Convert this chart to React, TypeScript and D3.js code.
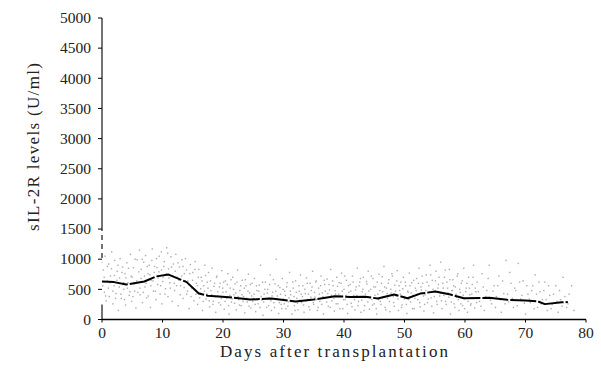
import React from "react";
import * as d3 from "d3";

const yTicks = [0, 500, 1000, 1500, 2000, 2500, 3000, 3500, 4000, 4500, 5000];
const xTicks = [0, 10, 20, 30, 40, 50, 60, 70, 80];

const meanDays = [0, 2, 4, 7, 9, 11, 14, 16, 17.5, 21, 24.5, 28, 32, 35, 38.5, 41, 43.5, 45.6, 48.3, 50.5, 52.6, 55.1, 57.6, 59.8, 64, 67, 70, 72, 73.2, 76, 77];
const meanValues = [630, 620, 580, 630, 715, 745, 620, 430, 395, 370, 330, 348, 298, 330, 385, 375, 377, 348, 414, 353, 430, 464, 414, 353, 360, 326, 315, 303, 255, 285, 290];

const scatterWide: [number, number][] = [
  [0.2,820],[0.4,450],[0.5,1050],[0.7,310],[0.9,640],[1.1,920],[1.2,380],[1.4,720],[1.6,1120],[1.8,260],[2.0,560],[2.1,980],[2.3,430],[2.5,800],[2.7,150],[2.9,690],[3.0,1010],[3.2,350],[3.4,870],[3.6,500],[3.8,760],[3.9,240],[4.1,940],[4.3,610],[4.5,400],[4.7,1080],[4.9,300],[5.0,700],[5.2,860],[5.4,470],[5.6,190],[5.8,990],
  [6.0,620],[6.2,1150],[6.3,410],[6.5,830],[6.7,280],[6.9,950],[7.1,540],[7.2,1060],[7.4,360],[7.6,760],[7.8,900],[8.0,200],[8.1,650],[8.3,1170],[8.5,470],[8.7,880],[8.9,330],[9.0,1010],[9.2,580],[9.4,790],[9.6,420],[9.8,1120],[9.9,260],[10.1,700],[10.3,960],[10.5,510],[10.7,1190],[10.9,380],[11.0,840],[11.2,610],[11.4,1040],[11.6,300],[11.8,920],[12.0,480],
  [12.2,1080],[12.4,700],[12.6,230],[12.8,870],[13.0,560],[13.2,990],[13.4,350],[13.6,760],[13.8,1010],[14.0,420],[14.2,640],[14.4,180],[14.6,910],[14.8,520],[15.0,780],[15.2,310],[15.4,960],[15.6,600],[15.8,250],[16.0,830],[16.2,440],[16.4,700],[16.6,150],[16.8,560],[17.0,900],[17.2,340],[17.4,620],
  [17.6,780],[17.8,210],[18.0,480],[18.2,850],[18.4,300],[18.6,600],[18.8,120],[19.0,720],[19.2,390],[19.4,540],[19.6,240],[19.8,810],[20.0,450],[20.2,170],[20.4,640],[20.6,350],[20.8,760],[21.0,90],[21.2,520],[21.4,290],[21.6,700],[21.8,410],[22.0,590],[22.2,160],[22.4,820],[22.6,330],[22.8,480],[23.0,230],[23.2,650],[23.4,380],[23.6,110],[23.8,560],[24.0,290],[24.2,750],[24.4,440],[24.6,190],[24.8,600],
  [25.0,350],[25.2,680],[25.4,130],[25.6,480],[25.8,260],[26.0,570],[26.2,900],[26.4,320],[26.6,70],[26.8,420],[27.0,620],[27.2,200],[27.4,500],[27.6,360],[27.8,740],[28.0,150],[28.2,450],[28.4,280],[28.6,590],[28.8,1000],[29.0,390],[29.2,100],[29.4,530],[29.6,250],[29.8,680],[30.0,340],[30.2,470],[30.4,180],[30.6,610],[30.8,290],[31.0,780],[31.2,410],[31.4,90],[31.6,520],[31.8,230],[32.0,640],[32.2,350],[32.4,160],[32.6,470],[32.8,740],
  [33.0,280],[33.2,560],[33.4,120],[33.6,430],[33.8,690],[34.0,330],[34.2,210],[34.4,600],[34.6,480],[34.8,800],[35.0,250],[35.2,370],[35.4,640],[35.6,150],[35.8,520],[36.0,300],[36.2,720],[36.4,440],[36.6,90],[36.8,580],[37.0,360],[37.2,670],[37.4,220],[37.6,490],[37.8,830],[38.0,310],[38.2,560],[38.4,140],[38.6,420],[38.8,700],[39.0,260],[39.2,610],[39.4,380],[39.6,770],[39.8,180],[40.0,500],[40.2,330],[40.4,650],[40.6,100],[40.8,450],[41.0,580],[41.2,270],[41.4,720],[41.6,400],[41.8,160],
  [42.0,540],[42.2,850],[42.4,300],[42.6,620],[42.8,120],[43.0,460],[43.2,700],[43.4,230],[43.6,380],[43.8,590],[44.0,800],[44.2,170],[44.4,500],[44.6,330],[44.8,680],[45.0,260],[45.2,540],[45.4,90],[45.6,420],[45.8,750],[46.0,300],[46.2,600],[46.4,460],[46.6,880],[46.8,200],[47.0,520],[47.2,350],[47.4,660],[47.6,130],[47.8,440],[48.0,720],[48.2,280],[48.4,570],[48.6,390],[48.8,810],[49.0,150],[49.2,480],[49.4,620],[49.6,240],[49.8,700],[50.0,340],[50.2,560],[50.4,100],[50.6,450],[50.8,770],[51.0,290],[51.2,610],[51.4,400],[51.6,180],[51.8,520],
  [52.0,680],[52.2,330],[52.4,850],[52.6,210],[52.8,490],[53.0,600],[53.2,140],[53.4,410],[53.6,740],[53.8,280],[54.0,560],[54.2,900],[54.4,360],[54.6,650],[54.8,110],[55.0,470],[55.2,800],[55.4,250],[55.6,580],[55.8,390],[56.0,950],[56.2,180],[56.4,520],[56.6,700],[56.8,300],[57.0,620],[57.2,440],[57.4,830],[57.6,90],[57.8,480],[58.0,660],[58.2,260],[58.4,540],[58.6,370],[58.8,760],[59.0,150],[59.2,450],[59.4,600],[59.6,230],[59.8,850],[60.0,340],[60.2,520],[60.4,120],[60.6,700],[60.8,410],[61.0,260],[61.2,580],[61.4,900],[61.6,190],[61.8,460],
  [62.0,620],[62.4,300],[62.8,760],[63.2,150],[63.6,480],[64.0,900],[64.4,260],[64.8,560],[65.2,380],[65.6,720],[66.0,120],[66.4,430],[66.8,980],[67.2,290],[67.6,600],[68.0,200],[68.4,480],[68.8,930],[69.2,340],[69.6,640],[70.0,90],[70.4,420],[70.8,280],[71.2,560],[71.6,740],[72.0,200],
  [72.4,460],[72.8,330],[73.2,620],[73.6,150],[74.0,400],[74.4,250],[75.0,560],[75.4,120],[75.8,330],[76.2,700],[76.8,200],[77.2,420],[78.0,150]
];

const scatterCore: [number, number][] = [
  [0.13,560],[0.36,700],[0.61,390],[0.88,880],[1.04,520],[1.33,610],[1.57,840],[1.79,470],[2.06,730],[2.24,350],[2.47,650],[2.63,900],[2.86,540],[3.12,420],[3.31,780],[3.58,610],[3.71,330],[3.97,690],[4.19,520],[4.38,850],[4.62,460],[4.83,720],[5.11,380],[5.33,590],[5.49,1000],[5.71,640],[5.93,450],
  [6.08,790],[6.27,520],[6.46,680],[6.64,1000],[6.83,450],[7.03,720],[7.27,600],[7.48,880],[7.66,390],[7.91,740],[8.06,560],[8.24,980],[8.42,640],[8.63,780],[8.81,470],[9.07,860],[9.29,690],[9.46,1050],[9.68,560],[9.84,820],[10.04,630],[10.22,880],[10.41,420],[10.63,760],[10.86,1100],[11.07,690],[11.29,520],[11.48,870],[11.71,720],[11.93,600],
  [12.11,800],[12.33,560],[12.57,940],[12.74,650],[12.93,410],[13.16,720],[13.39,880],[13.58,530],[13.77,640],[13.96,820],[14.13,470],[14.37,580],[14.52,760],[14.71,380],[14.96,650],[15.14,510],[15.36,830],[15.53,420],[15.77,560],[15.92,700],[16.14,360],[16.31,510],[16.53,640],[16.72,300],[16.94,470],[17.13,730],[17.32,420],
  [17.52,520],[17.71,310],[17.93,640],[18.12,410],[18.33,250],[18.51,550],[18.74,380],[18.92,700],[19.13,460],[19.31,280],[19.52,600],[19.73,350],[19.94,520],[20.11,620],[20.33,300],[20.52,460],[20.71,580],[20.93,230],[21.13,400],[21.31,660],[21.52,340],[21.73,500],[21.91,270],[22.12,440],[22.33,620],[22.51,380],[22.72,240],[22.93,560],[23.13,410],[23.31,300],[23.52,520],[23.71,660],[23.92,350],[24.13,470],[24.31,220],[24.52,580],[24.73,390],[24.91,300],
  [25.13,420],[25.31,250],[25.52,560],[25.73,330],[25.91,470],[26.12,200],[26.31,380],[26.53,620],[26.72,290],[26.93,500],[27.11,350],[27.33,440],[27.52,230],[27.71,580],[27.93,310],[28.12,390],[28.33,660],[28.51,200],[28.73,470],[28.92,340],[29.13,560],[29.32,280],[29.51,420],[29.72,180],[29.93,500],[30.12,260],[30.31,400],[30.52,540],[30.73,220],[30.91,360],[31.13,470],[31.31,300],[31.52,620],[31.73,380],[31.92,150],[32.12,450],[32.31,270],[32.53,560],[32.71,320],[32.93,420],
  [33.13,380],[33.31,240],[33.52,500],[33.73,310],[33.92,600],[34.11,420],[34.33,160],[34.52,370],[34.71,540],[34.93,280],[35.12,450],[35.33,620],[35.51,330],[35.72,200],[35.93,420],[36.13,560],[36.31,250],[36.52,380],[36.73,650],[36.91,470],[37.13,290],[37.32,430],[37.51,580],[37.73,200],[37.91,400],[38.12,640],[38.33,350],[38.52,480],[38.71,260],[38.93,550],[39.12,420],[39.33,180],[39.52,600],[39.71,470],[39.92,330],[40.11,720],[40.33,400],[40.52,250],[40.73,560],[40.91,380],[41.13,470],[41.32,210],[41.51,620],[41.73,330],[41.92,490],
  [42.13,400],[42.32,230],[42.51,560],[42.73,680],[42.93,320],[43.12,500],[43.31,150],[43.53,420],[43.72,630],[43.93,290],[44.11,470],[44.33,360],[44.52,720],[44.71,240],[44.93,540],[45.12,400],[45.33,180],[45.51,620],[45.72,330],[45.93,480],[46.11,250],[46.33,710],[46.52,380],[46.73,540],[46.91,160],[47.13,430],[47.32,600],[47.51,300],[47.73,500],[47.92,760],[48.13,380],[48.31,220],[48.53,470],[48.72,640],[48.93,340],[49.11,560],[49.33,420],[49.52,200],[49.71,510],[49.92,380],[50.13,620],[50.31,250],[50.52,470],[50.73,330],[50.91,560],[51.12,440],[51.33,180],[51.52,650],[51.71,350],[51.93,480],
  [52.13,420],[52.31,600],[52.52,280],[52.73,540],[52.91,720],[53.12,390],[53.33,250],[53.51,480],[53.72,620],[53.93,340],[54.11,450],[54.33,740],[54.51,220],[54.72,500],[54.93,380],[55.12,640],[55.31,300],[55.53,520],[55.71,700],[55.93,430],[56.12,310],[56.33,600],[56.51,400],[56.73,820],[56.91,250],[57.12,520],[57.33,370],[57.51,660],[57.73,290],[57.92,480],[58.13,560],[58.31,200],[58.53,420],[58.72,720],[58.91,330],[59.12,500],[59.31,260],[59.53,640],[59.72,400],[59.93,180],[60.13,460],[60.31,600],[60.52,300],[60.73,520],[60.91,240],[61.12,420],[61.33,700],[61.52,350],[61.71,520],[61.93,280],
  [62.21,460],[62.63,220],[63.02,540],[63.41,380],[63.83,680],[64.22,320],[64.61,470],[65.03,200],[65.42,560],[65.81,330],[66.21,640],[66.62,260],[67.03,420],[67.41,780],[67.82,350],[68.21,520],[68.62,230],[69.03,620],[69.41,400],[69.82,270],[70.21,560],[70.63,340],[71.02,480],[71.43,180],[71.82,420],[72.21,620],[72.61,260],[73.03,480],[73.42,330],[73.82,560],[74.21,180],[74.63,420],[75.21,300],[75.62,480],[76.03,220],[76.52,380],[77.02,260],[77.61,560]
];

const W = 601;
const H = 372;
const x0 = 102, x1 = 586;
const yTop = 18, yBottom = 319.5;

export default function App() {
  const x = d3.scaleLinear().domain([0, 80]).range([x0, x1]);
  const y = d3.scaleLinear().domain([0, 5000]).range([yBottom, yTop]);
  const line = d3.line<number>().x((_, i) => x(meanDays[i])).y((v) => y(v)).curve(d3.curveLinear);
  const font = "'Liberation Serif', 'Times New Roman', serif";
  const allPoints = scatterWide.concat(scatterCore);

  return (
    <svg width={W} height={H} style={{ position: "absolute", left: 0, top: 0, background: "#fff" }}>
      {/* scatter cloud */}
      <g fill="#9a9a9a" opacity={0.8}>
        {allPoints.map(([d, v], i) => (
          <rect key={i} x={x(d) - 0.7} y={y(v) - 0.7} width={1.4} height={1.4} />
        ))}
      </g>
      {/* mean line */}
      <path d={line(meanValues) || ""} fill="none" stroke="#000" strokeWidth={2} strokeDasharray="26,2" strokeLinejoin="round" />
      {/* y axis */}
      <line x1={x0} x2={x0} y1={yTop} y2={y(1550)} stroke="#000" strokeWidth={1.1} />
      <line x1={x0} x2={x0} y1={y(1550)} y2={y(950)} stroke="#000" strokeWidth={1.1} strokeDasharray="5,4" />
      <line x1={x0} x2={x0} y1={y(250)} y2={yBottom} stroke="#000" strokeWidth={1.1} />
      {yTicks.map((t) => (
        <g key={t}>
          <line x1={x0 - 4} x2={x0} y1={y(t)} y2={y(t)} stroke="#000" strokeWidth={1} />
          <text x={91} y={y(t)} dy="0.34em" textAnchor="end" fontFamily={font} fontSize={15.5} fill="#222">
            {t}
          </text>
        </g>
      ))}
      {/* x axis */}
      <line x1={x0} x2={x1} y1={yBottom} y2={yBottom} stroke="#000" strokeWidth={1.4} />
      {xTicks.map((t) => (
        <g key={t}>
          <line x1={x(t)} x2={x(t)} y1={yBottom} y2={yBottom + 3} stroke="#000" strokeWidth={1} />
          <text x={x(t)} y={338} textAnchor="middle" fontFamily={font} fontSize={15.5} fill="#222">
            {t}
          </text>
        </g>
      ))}
      <text x={334} y={357} textAnchor="middle" fontFamily={font} fontSize={17} fill="#222"
        textLength={228} lengthAdjust="spacing">
        Days after transplantation
      </text>
      <text transform="translate(39,147) rotate(-90)" textAnchor="middle" fontFamily={font} fontSize={17} fill="#222"
        textLength={168} lengthAdjust="spacing">
        sIL-2R levels (U/ml)
      </text>
    </svg>
  );
}
